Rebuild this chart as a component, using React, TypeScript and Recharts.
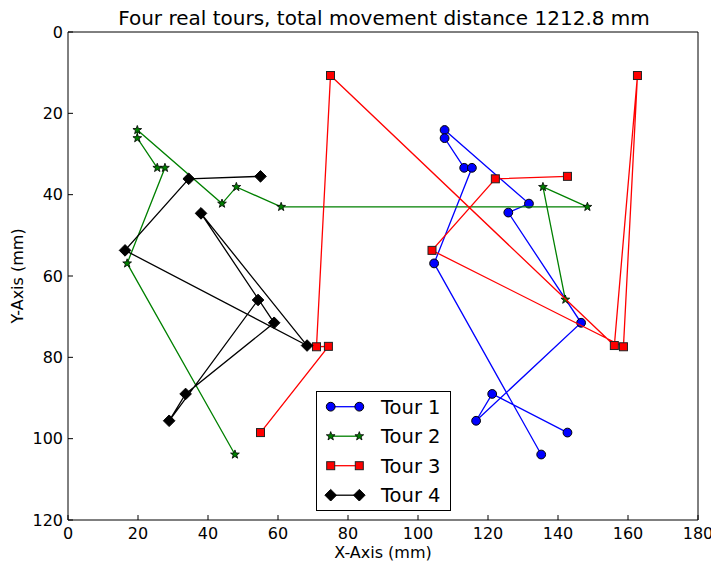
import React from "react";
import { ScatterChart, Scatter, XAxis, YAxis } from "recharts";

// tick values for both axes
const xTicks = [0, 20, 40, 60, 80, 100, 120, 140, 160, 180];
const yTicks = [0, 20, 40, 60, 80, 100, 120];

// tours, in visiting order (mm)
const tour1X = [142.7, 121.2, 116.6, 146.6, 125.8, 131.7, 107.6, 107.6, 113.2, 115.4, 104.6, 135.2];
const tour1Y = [98.5, 89.0, 95.6, 71.5, 44.4, 42.2, 24.1, 26.1, 33.4, 33.4, 56.9, 103.9];

const tour2X = [142.1, 135.7, 148.4, 60.9, 48.1, 44.0, 19.8, 19.8, 25.5, 27.7, 16.9, 47.7];
const tour2Y = [65.8, 38.1, 43.0, 43.0, 38.1, 42.2, 24.1, 26.1, 33.4, 33.4, 56.9, 103.9];

const tour3X = [55.0, 74.4, 71.0, 75.0, 156.1, 162.7, 158.7, 104.0, 122.1, 142.7];
const tour3Y = [98.5, 77.3, 77.4, 10.7, 77.1, 10.7, 77.4, 53.7, 36.1, 35.5];

const tour4X = [55.0, 34.5, 16.3, 68.3, 38.0, 58.9, 33.6, 28.9, 54.3];
const tour4Y = [35.5, 36.1, 53.7, 77.1, 44.6, 71.5, 89.0, 95.6, 65.9];

const tourNames = ["Tour 1", "Tour 2", "Tour 3", "Tour 4"];
const tourColors = ["#0000ff", "#008000", "#ff0000", "#000000"];

const FONT = "'DejaVu Sans', sans-serif";

const toPoints = (xs: number[], ys: number[]) => xs.map((x, i) => ({ x, y: ys[i] }));

// matplotlib-like markers: o, *, s, D
const drawMarker = (kind: number, cx: number, cy: number, color: string) => {
  if (kind === 0) {
    return <circle cx={cx} cy={cy} r={4.4} fill={color} stroke="#000" strokeWidth={1} />;
  }
  if (kind === 1) {
    const pts: string[] = [];
    for (let i = 0; i < 10; i++) {
      const r = i % 2 === 0 ? 4.6 : 1.9;
      const a = -Math.PI / 2 + (i * Math.PI) / 5;
      pts.push(`${cx + r * Math.cos(a)},${cy + r * Math.sin(a)}`);
    }
    return <polygon points={pts.join(" ")} fill={color} stroke="#000" strokeWidth={0.8} />;
  }
  if (kind === 2) {
    return <rect x={cx - 4} y={cy - 4} width={8} height={8} fill={color} stroke="#222" strokeWidth={1} />;
  }
  const d = 5.8;
  return (
    <polygon
      points={`${cx},${cy - d} ${cx + d},${cy} ${cx},${cy + d} ${cx - d},${cy}`}
      fill={color}
      stroke="#000"
      strokeWidth={1}
    />
  );
};

const tours = [
  toPoints(tour1X, tour1Y),
  toPoints(tour2X, tour2Y),
  toPoints(tour3X, tour3Y),
  toPoints(tour4X, tour4Y),
];

export default function App() {
  const rowY = [406.7, 436.2, 465.7, 495.2];

  return (
    <div style={{ position: "absolute", left: 0, top: 0, width: 711, height: 568, background: "#fff" }}>
      <ScatterChart
        width={711}
        height={568}
        margin={{ top: 31, right: 12, bottom: 0, left: 0 }}
        style={{ fontFamily: FONT }}
      >
        <XAxis
          dataKey="x"
          type="number"
          domain={[0, 180]}
          ticks={xTicks}
          interval={0}
          height={48}
          stroke="#000"
          tickSize={-5}
          tickMargin={13}
          tick={{ fontSize: 16, fill: "#000", fontFamily: FONT }}
        />
        {/* top and right spines with inward ticks */}
        <XAxis
          xAxisId="top"
          dataKey="x"
          orientation="top"
          type="number"
          domain={[0, 180]}
          ticks={xTicks}
          interval={0}
          height={1}
          stroke="#000"
          tickSize={-5}
          tick={false}
        />
        <YAxis
          dataKey="y"
          type="number"
          domain={[0, 120]}
          ticks={yTicks}
          interval={0}
          reversed
          width={68}
          stroke="#000"
          tickSize={-5}
          tickMargin={10}
          tick={{ fontSize: 16, fill: "#000", fontFamily: FONT }}
        />
        <YAxis
          yAxisId="right"
          dataKey="y"
          orientation="right"
          type="number"
          domain={[0, 120]}
          ticks={yTicks}
          interval={0}
          reversed
          width={1}
          stroke="#000"
          tickSize={-5}
          tick={false}
        />
        <Scatter
          xAxisId="top"
          yAxisId="right"
          data={[]}
          isAnimationActive={false}
          legendType="none"
        />
        {tours.map((pts, k) => (
          <Scatter
            key={tourNames[k]}
            name={tourNames[k]}
            data={pts}
            fill={tourColors[k]}
            line={{ stroke: tourColors[k], strokeWidth: 1.3 }}
            lineType="joint"
            isAnimationActive={false}
            shape={(p: any) => drawMarker(k, p.cx, p.cy, tourColors[k])}
          />
        ))}
      </ScatterChart>

      {/* title, axis labels and legend drawn on top */}
      <svg
        width={711}
        height={568}
        style={{ position: "absolute", left: 0, top: 0, pointerEvents: "none", fontFamily: FONT }}
      >
        <text x={384} y={25} textAnchor="middle" fontSize={20} fill="#000">
          Four real tours, total movement distance 1212.8 mm
        </text>
        <text x={383} y={558} textAnchor="middle" fontSize={16} fill="#000">
          X-Axis (mm)
        </text>
        <text x={23} y={276} textAnchor="middle" fontSize={16} fill="#000" transform="rotate(-90 23 276)">
          Y-Axis (mm)
        </text>

        <rect x={316.5} y={391.5} width={134} height={119} fill="#fff" stroke="#000" strokeWidth={1} />
        {tourNames.map((name, k) => (
          <g key={name}>
            <line x1={330.7} x2={359.3} y1={rowY[k]} y2={rowY[k]} stroke={tourColors[k]} strokeWidth={1.3} />
            {drawMarker(k, 330.7, rowY[k], tourColors[k])}
            {drawMarker(k, 359.3, rowY[k], tourColors[k])}
            <text x={381} y={rowY[k] + 7} fontSize={19.5} fill="#000">
              {name}
            </text>
          </g>
        ))}
      </svg>
    </div>
  );
}
